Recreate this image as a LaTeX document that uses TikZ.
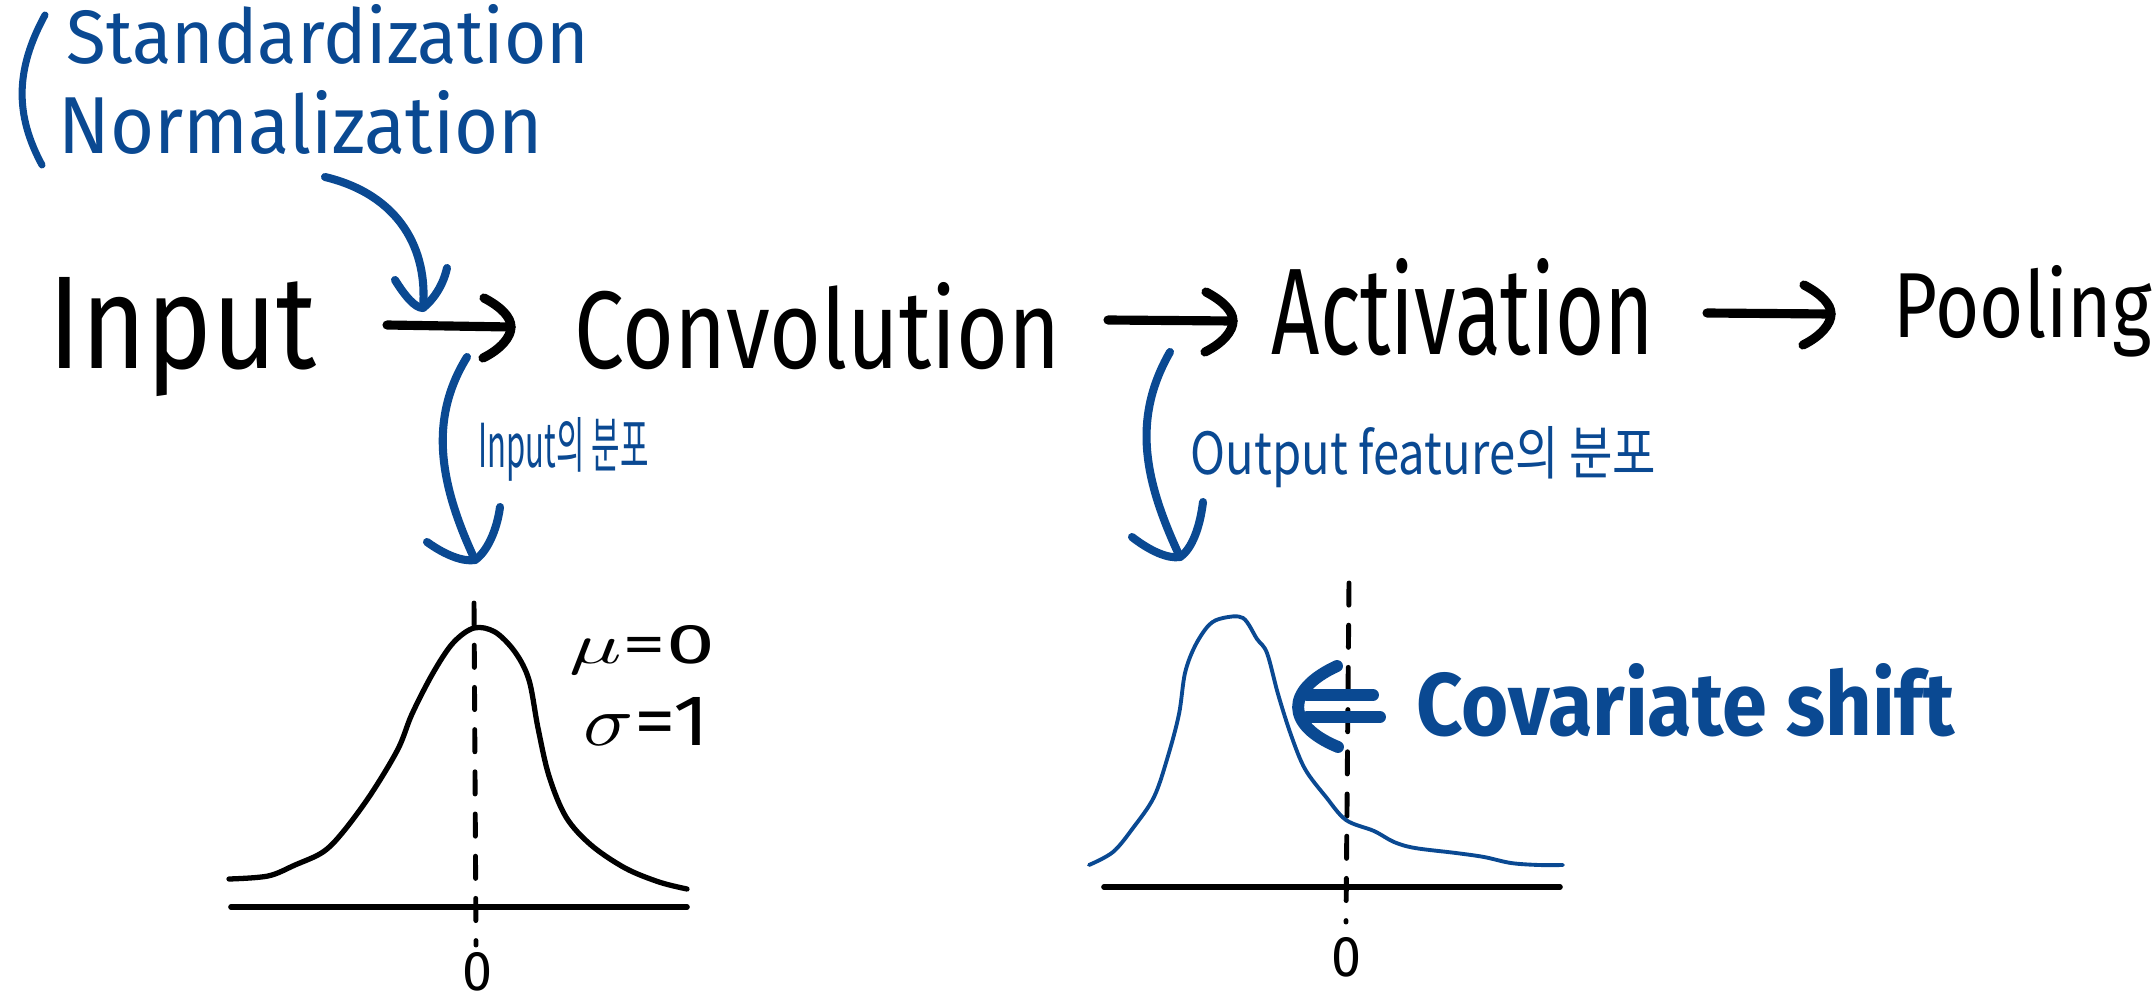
\documentclass[tikz,border=0pt]{standalone}
\usepackage{fontspec}
\setmainfont{Fira Sans}
\newfontfamily\krfont{Noto Sans CJK KR}
\usetikzlibrary{calc}
\definecolor{hblue}{RGB}{10,73,146}
\newcommand\fitbox[3]{\resizebox{#1cm}{#2cm}{#3}}
\begin{document}
\begin{tikzpicture}[x=0.01cm,y=-0.01cm,line cap=round,line join=round,
  blk/.style={line width=2.6pt,black},
  blu/.style={line width=2.3pt,hblue},
  lbl/.style={inner sep=0pt,anchor=base west},
  bell/.style={line width=1.5pt,black},
  dsh/.style={line width=1.4pt,black,dash pattern=on 6.3pt off 5.7pt},
  axis/.style={line width=1.6pt,black}]
\useasboundingbox (0,0) rectangle (2154,1000);

% top blue labels
\draw[blu,line width=2pt] (45,15) .. controls (15,70) and (15,115) .. (42,165);
\node[lbl,text=hblue] (std) at (66,64) {\fitbox{5.22}{0.59}{Standardization}};
\node[lbl,text=hblue] (nrm) at (58,153) {\fitbox{4.84}{0.63}{Normalization}};

% pipeline
\node[lbl] (inp) at (48,368) {\fitbox{2.68}{0.91}{Input}};
\node[lbl] (conv) at (574,368) {\fitbox{4.86}{0.86}{Convolution}};
\node[lbl] (act) at (1271,354) {\fitbox{3.82}{0.96}{Activation}};
\node[lbl] (pool) at (1893,337) {\fitbox{2.58}{0.72}{Pooling}};

\coordinate (a1s) at (387,325); \coordinate (a1e) at (511,327);
\coordinate (a2s) at (1108,320); \coordinate (a2e) at (1233,321);
\coordinate (a3s) at (1707,313); \coordinate (a3e) at (1831,314);
\foreach \s/\e in {a1s/a1e,a2s/a2e,a3s/a3e}{
  \draw[blk] (\s) -- (\e);
  \draw[blk] ($(\e)+(-27,-29)$) .. controls ($(\e)+(-10,-20)$) and ($(\e)+(0,-10)$) .. (\e)
     .. controls ($(\e)+(0,10)$) and ($(\e)+(-10,22)$) .. ($(\e)+(-28,31)$);
}

% blue curved arrows
\coordinate (c1s) at (325,177); \coordinate (c1e) at (423,308);
\draw[blu] (c1s) .. controls (400,195) and (428,250) .. (c1e);
\draw[blu] ($(c1e)+(-28,-28)$) .. controls ($(c1e)+(-18,-12)$) and ($(c1e)+(-8,0)$) .. (c1e)
   .. controls ($(c1e)+(10,-8)$) and ($(c1e)+(20,-22)$) .. ($(c1e)+(24,-40)$);
\coordinate (d1s) at (467,357); \coordinate (d1e) at (475,560);
\draw[blu] (d1s) .. controls (428,420) and (440,485) .. (d1e);
\draw[blu] ($(d1e)+(-48,-18)$) .. controls ($(d1e)+(-30,-5)$) and ($(d1e)+(-12,2)$) .. (d1e)
   .. controls ($(d1e)+(12,-8)$) and ($(d1e)+(22,-30)$) .. ($(d1e)+(25,-53)$);
\coordinate (d2s) at (1170,352); \coordinate (d2e) at (1180,557);
\draw[blu] (d2s) .. controls (1131,420) and (1145,482) .. (d2e);
\draw[blu] ($(d2e)+(-48,-20)$) .. controls ($(d2e)+(-30,-6)$) and ($(d2e)+(-12,2)$) .. (d2e)
   .. controls ($(d2e)+(12,-8)$) and ($(d2e)+(20,-30)$) .. ($(d2e)+(23,-55)$);

\node[lbl,text=hblue] (lab1) at (478,467) {\fitbox{1.70}{0.50}{\krfont Input의 분포}};
\node[lbl,text=hblue] (lab2) at (1190,474) {\fitbox{4.65}{0.48}{\krfont Output feature의 분포}};

% left distribution
\draw[axis] (231,907) -- (687,907);
\draw[dsh] (474,603) -- (476,945);
\draw[bell] plot[smooth,tension=0.55] coordinates {(229,879) (268,876) (295,865) (323,852) (343,832) (371,794) (398,749) (412,714) (433,673) (453,643) (474,628) (495,632) (515,652) (529,680) (538,728) (549,776) (566,817) (591,845) (625,868) (659,882) (687,889)};
\node[lbl] (zero1) at (462,990) {\fitbox{0.30}{0.38}{0}};
\node[lbl] (mu) at (569,663) {\fitbox{1.45}{0.38}{$\mu$=0}};
\node[lbl] (sig) at (583,745) {\fitbox{1.26}{0.48}{$\sigma$=1}};

% right distribution
\draw[axis] (1104,887) -- (1560,887);
\draw[dsh] (1349,583) -- (1346,922);
\draw[line width=1.1pt,hblue] plot[smooth,tension=0.55] coordinates {(1089,865) (1113,852) (1133,828) (1154,797) (1168,756) (1179,714) (1185,673) (1195,646) (1209,625) (1223,618) (1243,618) (1257,639) (1267,653) (1278,694) (1291,735) (1305,769) (1326,797) (1346,820) (1374,831) (1394,842) (1415,848) (1456,853) (1484,857) (1511,863) (1539,865) (1563,865)};
\node[lbl] (zero2) at (1331,976) {\fitbox{0.30}{0.39}{0}};

% covariate shift
\draw[blu,line width=3.4pt] (1337,666) .. controls (1285,690) and (1285,725) .. (1338,747);
\draw[blu,line width=3.4pt] (1307,695) -- (1373,695);
\draw[blu,line width=3.4pt] (1307,717) -- (1380,717);
\node[lbl,text=hblue] (cov) at (1416,735) {\fitbox{5.38}{0.72}{\bfseries Covariate shift}};
\end{tikzpicture}
\end{document}
